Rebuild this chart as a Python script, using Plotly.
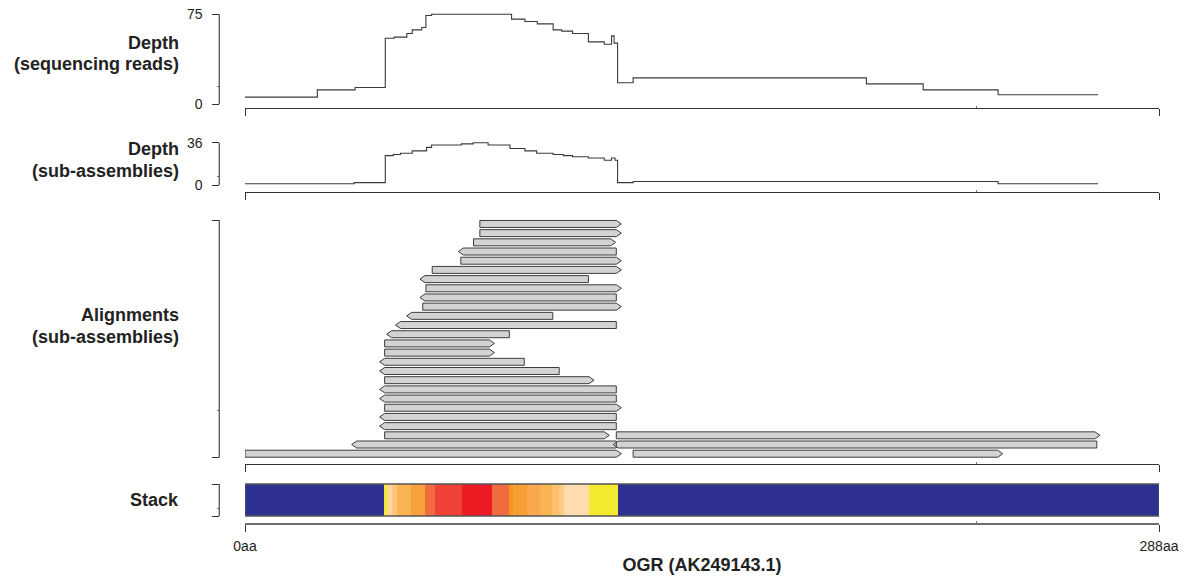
import plotly.graph_objects as go

# ---------------- data ----------------
# Depth (sequencing reads): step starts (aa) and depth value of each step
reads_x = [0, 22.8, 34.7, 44.2, 47.0, 51.0, 52.7, 55.7, 57.0, 58.8, 84.0, 88.2, 92.1,
           97.1, 99.8, 103.2, 108.2, 113.2, 115.5, 116.3, 117.4, 122.3, 195.8, 213.7, 237.3]
reads_v = [6, 12, 14, 55, 56, 59, 62, 64, 74, 75, 71, 69, 67,
           62, 61, 59, 52, 50, 57, 51, 18, 22, 17, 12, 8]
reads_end = 268.8

# Depth (sub-assemblies)
sub_x = [0, 34.4, 44.2, 46.7, 49.0, 52.7, 57.2, 58.8, 68.2, 71.9, 76.6, 83.5, 88.2,
         91.9, 97.1, 100.3, 103.2, 108.2, 113.2, 115.5, 116.6, 117.4, 122.3, 237.3]
sub_v = [1, 2, 25, 26, 27, 29, 32, 34, 35, 36, 34, 31, 29,
         27, 26, 25, 24, 23, 21, 23, 21, 2, 3, 1]
sub_end = 268.8

# Alignments (sub-assemblies): start, end (aa), strand, row (1 = bottom)
align_start = [74, 74, 72, 68.8, 68, 59, 56.7, 57, 56.7, 56, 52.5, 49, 46.2, 44, 44, 44, 44,
               44, 44, 44, 44, 44, 44, 44, 117, 35.2, 117.6, 0, 122.3]
align_end = [117, 117, 115.2, 117, 117, 117, 108.2, 117, 117, 117, 97, 117, 83.3, 77, 77, 88, 99,
             108.4, 117, 117, 117, 117, 117, 113.2, 267.8, 117, 268.4, 117, 237.2]
align_strand = ['+', '+', '+', '-', '+', '+', '-', '+', '-', '+', '-', '-', '-', '+', '+', '-', '-',
                '+', '-', '-', '+', '-', '-', '+', '+', '-', '-', '+', '+']
align_row = [26, 25, 24, 23, 22, 21, 20, 19, 18, 17, 16, 15, 14, 13, 12, 11, 10,
             9, 8, 7, 6, 5, 4, 3, 3, 2, 2, 1, 1]

# Stack segments
stack_start = [0, 43.8, 44.8, 46.4, 47.8, 52.3, 56.7, 59.9, 68.3, 77.7, 83.2, 84.5, 88.8,
               92.9, 96.6, 98.9, 100.4, 108.5, 117.4]
stack_color = ['#2e3192', '#f5ea2a', '#fdd7a1', '#fcc47c', '#fbb452', '#f7a13a', '#f26b3e',
               '#ef4136', '#ed1c24', '#f26a3f', '#f7941d', '#f89e37', '#f9a94d', '#fbb452',
               '#fcc06c', '#fdcb86', '#fedcb0', '#f4ea2f', '#2e3192']
seq_len = 288
x_ticks = [0, 288]
x_ticktext = ['0aa', '288aa']
x_title = 'OGR (AK249143.1)'

# ---------------- layout helpers ----------------
W, H = 1189, 576
X0_PX, X1_PX = 245, 1159
YAX_PX = 219.3
FONT = 'Liberation Sans, Arial, sans-serif'
AXC = '#333333'


def dom(top_px, bot_px):
    return [1 - bot_px / H, 1 - top_px / H]


def rng(zero_px, unit_px, top_px, bot_px):
    return [(zero_px - bot_px) / unit_px, (zero_px - top_px) / unit_px]


panels = {
    # name: (zero_px, unit_px, top_px, bottom_px)
    'reads': (104.3, 1.2, 10, 108),
    'sub': (185.0, 1.175, 136, 192),
    'align': (453.7 + 9.19, 9.19, 212, 464),
    'stack': (516.0, 32.0, 476, 523),
}

fig = go.Figure()

# depth traces (step lines)
fig.add_trace(go.Scatter(x=reads_x + [reads_end], y=reads_v + [reads_v[-1]], mode='lines',
                         line=dict(shape='hv', color='#3a3a3a', width=1.1),
                         xaxis='x', yaxis='y', hoverinfo='skip', showlegend=False))
fig.add_trace(go.Scatter(x=sub_x + [sub_end], y=sub_v + [sub_v[-1]], mode='lines',
                         line=dict(shape='hv', color='#3a3a3a', width=1.1),
                         xaxis='x2', yaxis='y2', hoverinfo='skip', showlegend=False))

# alignments as arrow polygons
A = 1.58   # arrow head length (aa)
hh = 0.38  # half height (rows)
ax, ay = [], []
for s, e, st, r in zip(align_start, align_end, align_strand, align_row):
    if st == '+':
        px = [s, e, e + A, e, s, s]
        pyv = [r - hh, r - hh, r, r + hh, r + hh, r - hh]
    else:
        px = [s, e, e, s, s - A, s]
        pyv = [r - hh, r - hh, r + hh, r + hh, r, r - hh]
    ax += px + [None]
    ay += pyv + [None]
fig.add_trace(go.Scatter(x=ax, y=ay, mode='lines', fill='toself', fillcolor='#d3d3d3',
                         line=dict(color='#3c3c3c', width=1), xaxis='x3', yaxis='y3',
                         hoverinfo='skip', showlegend=False))

# stack bar
stack_end = stack_start[1:] + [seq_len]
fig.add_trace(go.Bar(y=[0.5] * len(stack_start), x=[e - s for s, e in zip(stack_start, stack_end)],
                     base=stack_start, orientation='h', width=1.0,
                     marker=dict(color=stack_color, line=dict(width=0)),
                     xaxis='x4', yaxis='y4', hoverinfo='skip', showlegend=False))

layout = dict(width=W, height=H, margin=dict(l=0, r=0, t=0, b=0, pad=0, autoexpand=False),
              autosize=False, plot_bgcolor='white', paper_bgcolor='white',
              font=dict(family=FONT, size=14, color='#222222'), showlegend=False,
              bargap=0)

ytick_sets = {
    'reads': ([0, 75], ['0', '75'], [15.25]),
    'sub': ([0, 36], ['0', '36'], [7.1]),
    'align': ([0.6, 26.4], ['', ''], [5.75]),
    'stack': ([0, 1], ['', ''], [0.22]),
}
shapes = []
for i, name in enumerate(['reads', 'sub', 'align', 'stack']):
    z, u, t, b = panels[name]
    sfx = '' if i == 0 else str(i + 1)
    tv, tt, mv = ytick_sets[name]
    last = (name == 'stack')
    layout['xaxis' + sfx] = dict(domain=[X0_PX / W, X1_PX / W], range=[0, seq_len],
                                 anchor='y' + sfx, showline=True, automargin=False,
                                 linecolor='#6e6e6e' if last else AXC,
                                 linewidth=1.6 if last else 1,
                                 showgrid=False, zeroline=False, ticks='outside', ticklen=7,
                                 tickcolor=AXC, tickwidth=1, tickmode='array', tickvals=x_ticks,
                                 ticktext=x_ticktext, showticklabels=last,
                                 tickfont=dict(size=14, color='#222222'),
                                 ticklabelstandoff=2,
                                 minor=dict(tickvals=[230.4], ticks='inside', ticklen=2,
                                            tickcolor='#777777'),
                                 fixedrange=True)
    if last:
        layout['xaxis' + sfx]['title'] = dict(text='<b>' + x_title + '</b>',
                                              font=dict(size=18, color='#222222'), standoff=6)
    layout['yaxis' + sfx] = dict(domain=dom(t, b), range=rng(z, u, t, b), anchor='free',
                                 position=YAX_PX / W, showline=False, showgrid=False,
                                 automargin=False,
                                 zeroline=False, ticks='outside', ticklen=7, tickcolor=AXC,
                                 tickmode='array', tickvals=tv, ticktext=tt,
                                 tickfont=dict(size=14, color='#222222'), ticklabelstandoff=7,
                                 minor=dict(tickvals=mv, ticks='outside', ticklen=2,
                                            tickcolor='#777777'),
                                 fixedrange=True)
    shapes.append(dict(type='line', xref='paper', yref='y' + sfx, x0=YAX_PX / W, x1=YAX_PX / W,
                       y0=tv[0], y1=tv[1], line=dict(color='#555555', width=1.3)))

# stack outline
shapes.append(dict(type='rect', xref='x4', yref='y4', x0=0, x1=seq_len, y0=0, y1=1,
                   line=dict(color='#555555', width=1.3), fillcolor='rgba(0,0,0,0)'))
layout['shapes'] = shapes

labels = [('Depth', 43), ('(sequencing reads)', 64), ('Depth', 149), ('(sub-assemblies)', 171),
          ('Alignments', 315), ('(sub-assemblies)', 337), ('Stack', 500)]
layout['annotations'] = [dict(text='<b>' + t + '</b>', xref='paper', yref='paper', x=181 / W,
                              y=1 - ypx / H, xanchor='right', yanchor='middle', showarrow=False,
                              font=dict(size=18, color='#222222', family=FONT))
                         for t, ypx in labels]

fig.update_layout(**layout)
fig.write_html('out.html', config={'displayModeBar': False},
               post_script="document.body.style.margin='0';document.body.style.overflow='hidden';")
